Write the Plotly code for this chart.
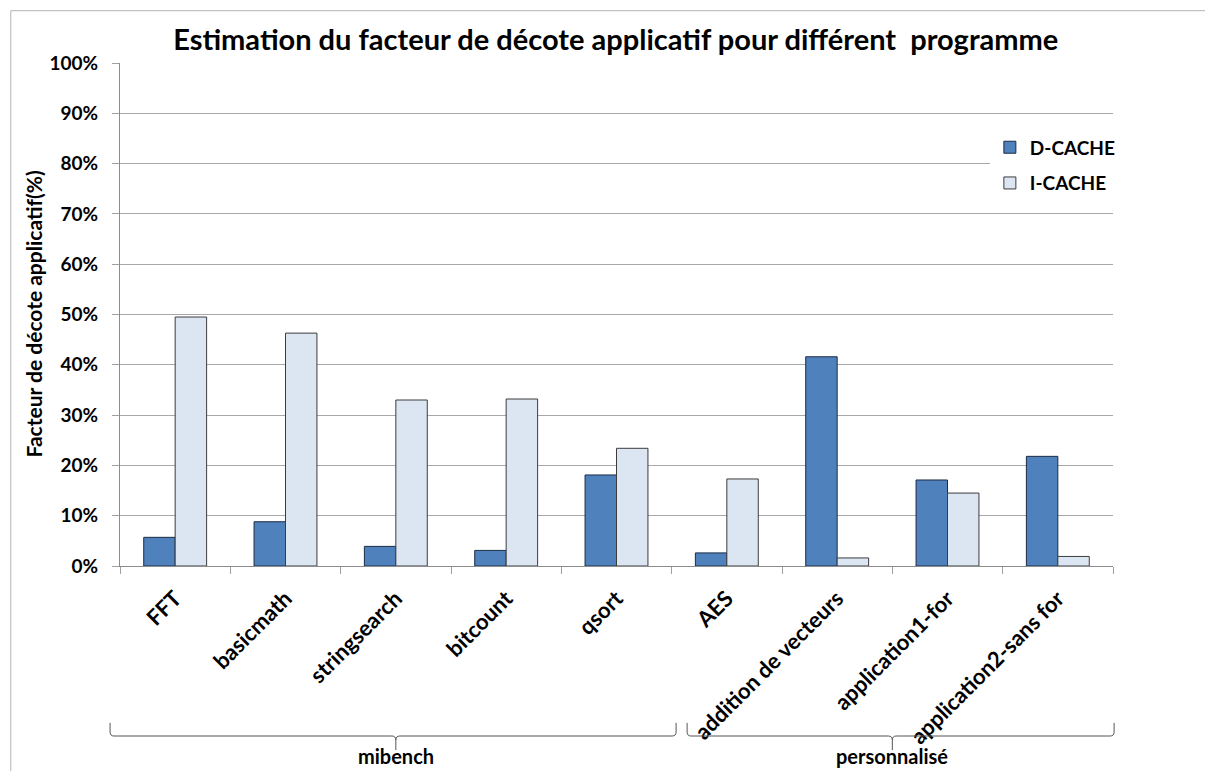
import plotly.graph_objects as go

# Programs, grouped by benchmark family
programs = ["FFT", "basicmath", "stringsearch", "bitcount", "qsort",
            "AES", "addition de vecteurs", "application1-for", "application2-sans for"]
d_cache = [5.7, 8.8, 3.9, 3.1, 18.1, 2.6, 41.6, 17.1, 21.8]
i_cache = [49.5, 46.3, 33.0, 33.2, 23.4, 17.3, 1.6, 14.5, 1.9]

groups = ["mibench", "personnalisé"]
group_first = [0, 5]
group_last = [4, 8]

y_ticks = list(range(0, 101, 10))
y_tick_text = [f"{v}%" for v in y_ticks]

FONT = "Lato"
n = len(programs)

fig = go.Figure()
fig.add_trace(go.Bar(
    x=programs, y=d_cache, name="D-CACHE", legendgroup="d",
    marker=dict(color="#4F81BD", line=dict(color="#1c2c44", width=1)),
))
fig.add_trace(go.Bar(
    x=programs, y=i_cache, name="I-CACHE", legendgroup="i",
    marker=dict(color="#DCE6F2", line=dict(color="#3c3c3c", width=1)),
))


def idx_to_paper(i):
    return (i + 0.5) / n


def brace_path(x0, x1, xc, ytop, yline, ybot, rx=0.004, ry=0.008):
    return (f"M{x0},{ytop} L{x0},{yline + ry} Q{x0},{yline} {x0 + rx},{yline} "
            f"L{xc - rx},{yline} Q{xc},{yline} {xc},{yline - ry} L{xc},{ybot} "
            f"M{xc},{yline - ry} Q{xc},{yline} {xc + rx},{yline} "
            f"L{x1 - rx},{yline} Q{x1},{yline} {x1},{yline + ry} L{x1},{ytop}")


shapes = [
    # outer chart-area frame
    dict(type="rect", xref="paper", yref="paper", x0=-0.110, y0=1.104, x1=1.30, y1=-0.6,
         line=dict(color="#b4b4b4", width=1), fillcolor="rgba(0,0,0,0)", layer="below"),
]
annotations = [
    dict(text="<b>Facteur de décote applicatif(%)</b>", textangle=-90,
         xref="paper", yref="paper", x=-0.0876, y=0.5, xanchor="center", yanchor="middle",
         showarrow=False, font=dict(family=FONT, size=21, color="black")),
]
# brace extents along the category axis (category index units)
brace_span = [(-0.59, 4.54), (4.64, 8.51)]
for g, a, b, (s0, s1) in zip(groups, group_first, group_last, brace_span):
    x0 = idx_to_paper(s0)
    x1 = idx_to_paper(s1)
    xc = idx_to_paper((a + b) / 2)
    shapes.append(dict(type="path", xref="paper", yref="paper",
                       path=brace_path(x0, x1, xc, -0.312, -0.338, -0.366),
                       line=dict(color="#555555", width=1)))
    annotations.append(dict(text=f"<b>{g}</b>", xref="paper", yref="paper", x=xc, y=-0.4056,
                            showarrow=False, xanchor="center", yanchor="bottom",
                            font=dict(family=FONT, size=20, color="black")))

fig.update_layout(
    width=1205, height=771,
    margin=dict(l=120, r=92, t=63, b=205),
    paper_bgcolor="white", plot_bgcolor="white",
    font=dict(family=FONT, color="black"),
    title=dict(text="<b>Estimation du facteur de décote applicatif pour différent  programme</b>",
               x=0.511, xanchor="center", y=0.948, yanchor="middle",
               font=dict(family=FONT, size=29, color="black")),
    barmode="group", bargap=0.43, bargroupgap=0,
    showlegend=True,
    legend=dict(x=0.876, y=0.870, xanchor="left", yanchor="top",
                bgcolor="white", traceorder="grouped", tracegroupgap=8,
                font=dict(family=FONT, size=19, color="black", weight="bold")),
    shapes=shapes, annotations=annotations,
)
fig.update_xaxes(
    type="category", tickangle=-45, tickson="boundaries",
    ticks="outside", ticklen=7, tickcolor="#a0a0a0",
    showline=True, linecolor="#8c8c8c", linewidth=1, showgrid=False,
    tickfont=dict(family=FONT, size=22, color="black", weight="bold"),
    ticklabelstandoff=10,
)
fig.update_yaxes(
    range=[0, 100], tickvals=y_ticks, ticktext=y_tick_text,
    ticks="outside", ticklen=7, tickcolor="#a0a0a0",
    showline=True, linecolor="#8c8c8c", linewidth=1,
    showgrid=True, gridcolor="#a8a8a8", gridwidth=1, zeroline=False,
    tickfont=dict(family=FONT, size=19, color="black", weight="bold"),
    ticklabelstandoff=10,
)

fig.write_html("out.html")
